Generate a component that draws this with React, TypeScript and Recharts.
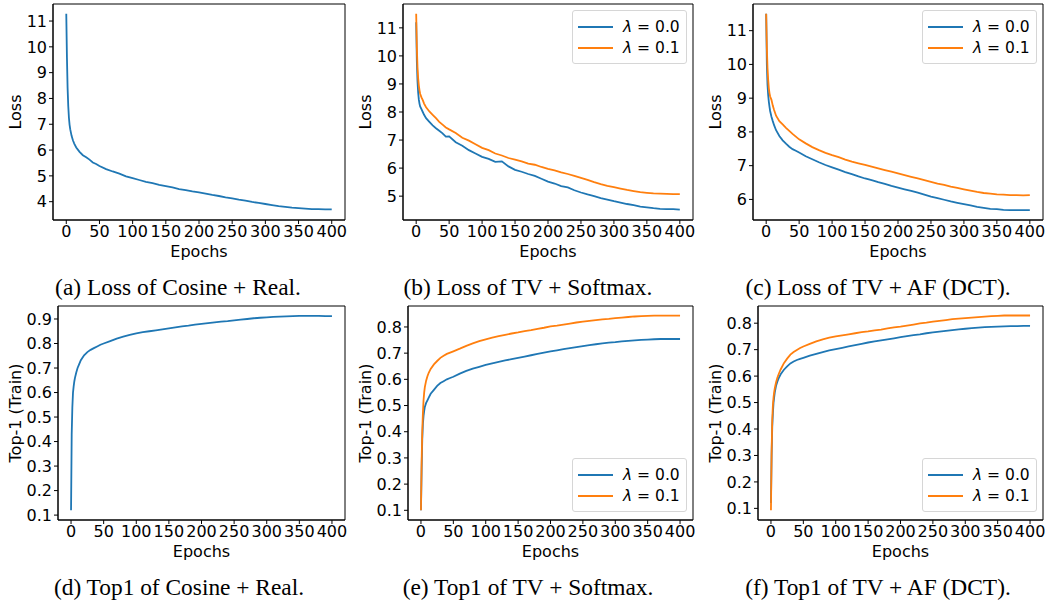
import React from "react";
import { Label, Legend, Line, LineChart, ReferenceArea, XAxis, YAxis } from "recharts";

const EPOCHS = [
  0, 1, 2, 3, 4, 5, 6, 8, 10, 12, 15, 20, 25, 30, 35, 40, 45, 50, 60, 70, 80, 90, 100, 110, 120, 130, 140, 150, 160,
  170, 180, 190, 200, 210, 220, 230, 240, 250, 260, 270, 280, 290, 300, 310, 320, 330, 340, 350, 360, 370, 380, 390, 400,
];
const X_TICKS = [0, 50, 100, 150, 200, 250, 300, 350, 400];
const LAMBDAS = ["λ = 0.0", "λ = 0.1"];
const COLORS = ["#1f77b4", "#ff7f0e"];

// (a) Loss of Cosine + Real
const LOSS_COS = [
  11.28, 9.6, 8.4, 7.7, 7.25, 6.98, 6.8, 6.55, 6.38, 6.25, 6.1, 5.93, 5.8, 5.72, 5.63, 5.52, 5.46, 5.38, 5.26, 5.17,
  5.09, 4.98, 4.91, 4.84, 4.77, 4.72, 4.65, 4.6, 4.55, 4.49, 4.45, 4.4, 4.36, 4.31, 4.26, 4.22, 4.17, 4.13, 4.08, 4.04,
  3.99, 3.95, 3.91, 3.87, 3.83, 3.8, 3.77, 3.75, 3.73, 3.71, 3.71, 3.7, 3.7,
];
// (b) Loss of TV + Softmax
const LOSS_SM_0 = [
  11.2, 9.8, 9.1, 8.7, 8.45, 8.3, 8.2, 8.1, 8.0, 7.9, 7.78, 7.65, 7.52, 7.42, 7.33, 7.24, 7.12, 7.13, 6.92, 6.8, 6.64,
  6.52, 6.4, 6.33, 6.22, 6.24, 6.06, 5.94, 5.87, 5.79, 5.72, 5.62, 5.52, 5.45, 5.36, 5.31, 5.21, 5.13, 5.06, 5.0, 4.93,
  4.88, 4.82, 4.77, 4.72, 4.68, 4.63, 4.6, 4.57, 4.55, 4.54, 4.54, 4.52,
];
const LOSS_SM_1 = [
  11.5, 10.3, 9.6, 9.2, 8.95, 8.78, 8.65, 8.52, 8.42, 8.3, 8.17, 8.02, 7.9, 7.78, 7.65, 7.55, 7.45, 7.38, 7.25, 7.08,
  6.98, 6.85, 6.72, 6.64, 6.52, 6.45, 6.36, 6.3, 6.24, 6.16, 6.12, 6.04, 5.97, 5.92, 5.85, 5.79, 5.72, 5.65, 5.58, 5.5,
  5.43, 5.37, 5.32, 5.27, 5.22, 5.18, 5.14, 5.12, 5.1, 5.09, 5.08, 5.07, 5.07,
];
// (c) Loss of TV + AF (DCT)
const LOSS_AF_0 = [
  11.5, 10.0, 9.4, 9.1, 8.9, 8.75, 8.62, 8.45, 8.32, 8.2, 8.05, 7.88, 7.75, 7.65, 7.56, 7.49, 7.44, 7.39, 7.28, 7.19,
  7.1, 7.02, 6.95, 6.88, 6.81, 6.75, 6.68, 6.62, 6.57, 6.51, 6.46, 6.4, 6.35, 6.3, 6.25, 6.2, 6.14, 6.08, 6.04, 5.99,
  5.94, 5.9, 5.86, 5.82, 5.78, 5.75, 5.72, 5.71, 5.69, 5.68, 5.68, 5.68, 5.68,
];
const LOSS_AF_1 = [
  11.5, 10.5, 9.9, 9.55, 9.3, 9.15, 9.05, 8.95, 8.78, 8.65, 8.48, 8.32, 8.22, 8.12, 8.03, 7.94, 7.86, 7.78, 7.66, 7.55,
  7.46, 7.38, 7.31, 7.25, 7.18, 7.12, 7.07, 7.02, 6.97, 6.92, 6.87, 6.82, 6.77, 6.72, 6.67, 6.62, 6.57, 6.52, 6.47,
  6.43, 6.38, 6.34, 6.3, 6.26, 6.22, 6.19, 6.17, 6.15, 6.14, 6.13, 6.13, 6.12, 6.13,
];
// (d) Top1 of Cosine + Real
const TOP1_COS = [
  0.12, 0.43, 0.54, 0.6, 0.625, 0.645, 0.66, 0.682, 0.7, 0.713, 0.732, 0.752, 0.765, 0.774, 0.781, 0.788, 0.795, 0.8,
  0.81, 0.82, 0.828, 0.835, 0.841, 0.846, 0.85, 0.854, 0.858, 0.862, 0.866, 0.87, 0.873, 0.877, 0.88, 0.883, 0.886,
  0.889, 0.891, 0.894, 0.897, 0.9, 0.903, 0.905, 0.907, 0.909, 0.91, 0.911, 0.912, 0.913, 0.913, 0.913, 0.913, 0.912,
  0.912,
];
// (e) Top1 of TV + Softmax
const TOP1_SM_0 = [
  0.1, 0.25, 0.37, 0.43, 0.46, 0.48, 0.495, 0.51, 0.52, 0.53, 0.545, 0.56, 0.575, 0.586, 0.593, 0.6, 0.605, 0.61,
  0.622, 0.632, 0.641, 0.648, 0.655, 0.661, 0.667, 0.672, 0.677, 0.682, 0.687, 0.692, 0.697, 0.702, 0.707, 0.711,
  0.715, 0.719, 0.723, 0.727, 0.731, 0.734, 0.737, 0.74, 0.742, 0.745, 0.747, 0.749, 0.751, 0.752, 0.753, 0.754, 0.754,
  0.754, 0.754,
];
const TOP1_SM_1 = [
  0.1, 0.28, 0.4, 0.47, 0.52, 0.55, 0.57, 0.595, 0.612, 0.625, 0.64, 0.657, 0.67, 0.682, 0.69, 0.697, 0.702, 0.707,
  0.717, 0.728, 0.737, 0.746, 0.753, 0.759, 0.765, 0.77, 0.775, 0.779, 0.784, 0.788, 0.793, 0.797, 0.802, 0.805, 0.809,
  0.813, 0.817, 0.82, 0.823, 0.826, 0.829, 0.831, 0.834, 0.836, 0.838, 0.84, 0.841, 0.842, 0.843, 0.843, 0.843, 0.843,
  0.843,
];
// (f) Top1 of TV + AF (DCT)
const TOP1_AF_0 = [
  0.12, 0.3, 0.41, 0.46, 0.5, 0.52, 0.54, 0.565, 0.58, 0.592, 0.607, 0.624, 0.637, 0.648, 0.655, 0.661, 0.665, 0.669,
  0.677, 0.684, 0.691, 0.697, 0.702, 0.707, 0.712, 0.717, 0.722, 0.727, 0.731, 0.735, 0.739, 0.743, 0.747, 0.751,
  0.755, 0.758, 0.762, 0.765, 0.768, 0.771, 0.774, 0.777, 0.779, 0.781, 0.783, 0.785, 0.786, 0.787, 0.788, 0.789,
  0.789, 0.79, 0.79,
];
const TOP1_AF_1 = [
  0.093, 0.31, 0.435, 0.49, 0.52, 0.54, 0.555, 0.578, 0.595, 0.608, 0.625, 0.649, 0.666, 0.681, 0.691, 0.699, 0.706,
  0.712, 0.722, 0.731, 0.739, 0.745, 0.75, 0.754, 0.758, 0.762, 0.766, 0.769, 0.773, 0.776, 0.78, 0.784, 0.787, 0.791,
  0.795, 0.799, 0.802, 0.806, 0.809, 0.812, 0.815, 0.817, 0.819, 0.821, 0.823, 0.825, 0.827, 0.828, 0.829, 0.829,
  0.829, 0.829, 0.829,
];

const LOSS_TICKS_A = [4, 5, 6, 7, 8, 9, 10, 11];
const LOSS_TICKS_B = [5, 6, 7, 8, 9, 10, 11];
const LOSS_TICKS_C = [6, 7, 8, 9, 10, 11];
const TOP1_TICKS_D = [0.1, 0.2, 0.3, 0.4, 0.5, 0.6, 0.7, 0.8, 0.9];
const TOP1_TICKS_EF = [0.1, 0.2, 0.3, 0.4, 0.5, 0.6, 0.7, 0.8];

const CAPTIONS = [
  "(a) Loss of Cosine + Real.",
  "(b) Loss of TV + Softmax.",
  "(c) Loss of TV + AF (DCT).",
  "(d) Top1 of Cosine + Real.",
  "(e) Top1 of TV + Softmax.",
  "(f) Top1 of TV + AF (DCT).",
];

const SANS = "DejaVu Sans";
const FS = 16;
const YW = 60;
const MT = 4;
const MR = 6;
const XH = 50;
const X_DOMAIN: [number, number] = [-20, 420];

interface Panel {
  box: { x: number; y: number; w: number; h: number };
  series: number[][];
  yDomain: [number, number];
  yTicks: number[];
  yLabel: string;
  titleGap: number;
  legend: "top" | "bottom" | null;
  captionX: number;
  captionY: number;
}

const PANELS: Panel[] = [
  { box: { x: 53, y: 4, w: 292, h: 216 }, series: [LOSS_COS], yDomain: [3.29, 11.66], yTicks: LOSS_TICKS_A, yLabel: "Loss", titleGap: 38, legend: null, captionX: 178, captionY: 296 },
  { box: { x: 403, y: 4, w: 290, h: 216 }, series: [LOSS_SM_0, LOSS_SM_1], yDomain: [4.15, 11.85], yTicks: LOSS_TICKS_B, yLabel: "Loss", titleGap: 38, legend: "top", captionX: 528, captionY: 296 },
  { box: { x: 753, y: 4, w: 290, h: 216 }, series: [LOSS_AF_0, LOSS_AF_1], yDomain: [5.39, 11.79], yTicks: LOSS_TICKS_C, yLabel: "Loss", titleGap: 38, legend: "top", captionX: 878, captionY: 296 },
  { box: { x: 58, y: 306, w: 287, h: 214 }, series: [TOP1_COS], yDomain: [0.08, 0.953], yTicks: TOP1_TICKS_D, yLabel: "Top-1 (Train)", titleGap: 43, legend: null, captionX: 179, captionY: 596 },
  { box: { x: 408, y: 306, w: 285, h: 214 }, series: [TOP1_SM_0, TOP1_SM_1], yDomain: [0.063, 0.88], yTicks: TOP1_TICKS_EF, yLabel: "Top-1 (Train)", titleGap: 43, legend: "bottom", captionX: 528, captionY: 596 },
  { box: { x: 758, y: 306, w: 285, h: 214 }, series: [TOP1_AF_0, TOP1_AF_1], yDomain: [0.056, 0.865], yTicks: TOP1_TICKS_EF, yLabel: "Top-1 (Train)", titleGap: 43, legend: "bottom", captionX: 878, captionY: 596 },
];

const LEG_W = 115;
const LEG_H = 54;

function LambdaLegend({ payload }: any) {
  return (
    <div
      style={{
        width: LEG_W,
        height: LEG_H,
        boxSizing: "border-box",
        background: "#fff",
        border: "1px solid #d6d6d6",
        borderRadius: 3,
        padding: "5px 0 0 5px",
        fontFamily: SANS,
        fontSize: 15.5,
        color: "#000",
      }}
    >
      {(payload || []).map((p: any) => (
        <div key={p.value} style={{ display: "flex", alignItems: "center", height: 21.6 }}>
          <span style={{ width: 35, borderTop: `2px solid ${p.color}`, marginRight: 10 }} />
          <span>
            <i>{p.value.slice(0, 1)}</i>
            {p.value.slice(1)}
          </span>
        </div>
      ))}
    </div>
  );
}

function ChartPanel({ p }: { p: Panel }) {
  const rows = EPOCHS.map((e, i) => {
    const r: Record<string, number> = { epoch: e };
    p.series.forEach((s, k) => (r["s" + k] = s[i]));
    return r;
  });
  const legTop = p.legend === "top" ? MT + 6 : MT + p.box.h - 8 - LEG_H;
  return (
    <div style={{ position: "absolute", left: p.box.x - YW, top: p.box.y - MT }}>
      <LineChart
        width={p.box.w + YW + MR}
        height={p.box.h + MT + XH}
        data={rows}
        margin={{ top: MT, right: MR, bottom: 0, left: 0 }}
      >
        <XAxis
          dataKey="epoch"
          type="number"
          domain={X_DOMAIN}
          ticks={X_TICKS}
          interval={0}
          allowDataOverflow
          height={XH}
          tickSize={4}
          tickMargin={2}
          stroke="#000"
          tick={{ fill: "#000", fontSize: FS, fontFamily: SANS }}
        >
          <Label
            content={(props: any) => {
              const vb = props.viewBox;
              return (
                <text x={vb.x + vb.width / 2} y={vb.y + 31} textAnchor="middle" dominantBaseline="central" fontSize={FS} fontFamily={SANS} fill="#000">
                  Epochs
                </text>
              );
            }}
          />
        </XAxis>
        <YAxis
          type="number"
          domain={p.yDomain}
          ticks={p.yTicks}
          interval={0}
          allowDataOverflow
          width={YW}
          tickSize={4}
          tickMargin={2}
          stroke="#000"
          tick={{ fill: "#000", fontSize: FS, fontFamily: SANS }}
        >
          <Label
            content={(props: any) => {
              const vb = props.viewBox;
              const cx = vb.x + vb.width - p.titleGap;
              const cy = vb.y + vb.height / 2;
              return (
                <text x={cx} y={cy} transform={`rotate(-90 ${cx} ${cy})`} textAnchor="middle" dominantBaseline="central" fontSize={FS} fontFamily={SANS} fill="#000">
                  {p.yLabel}
                </text>
              );
            }}
          />
        </YAxis>
        <ReferenceArea x1={X_DOMAIN[0]} x2={X_DOMAIN[1]} y1={p.yDomain[0]} y2={p.yDomain[1]} fill="none" stroke="#000" strokeWidth={1} />
        {p.series.map((_, k) => (
          <Line
            key={k}
            dataKey={"s" + k}
            name={LAMBDAS[k]}
            type="linear"
            stroke={COLORS[k]}
            strokeWidth={1.8}
            dot={false}
            isAnimationActive={false}
          />
        ))}
        {p.legend && (
          <Legend
            layout="vertical"
            align="center"
            verticalAlign="middle"
            wrapperStyle={{ left: YW + p.box.w - 6 - LEG_W, top: legTop, width: LEG_W }}
            content={LambdaLegend}
          />
        )}
      </LineChart>
    </div>
  );
}

export default function App() {
  return (
    <div style={{ position: "absolute", left: 0, top: 0, width: 1049, height: 600, background: "#fff", fontFamily: SANS }}>
      {PANELS.map((p, i) => (
        <ChartPanel key={i} p={p} />
      ))}
      {PANELS.map((p, i) => (
        <div
          key={"c" + i}
          style={{
            position: "absolute",
            left: p.captionX - 170,
            width: 340,
            top: p.captionY - 22,
            textAlign: "center",
            fontFamily: "Liberation Serif",
            fontSize: 23.4,
            lineHeight: "27px",
            color: "#000",
            whiteSpace: "nowrap",
          }}
        >
          {CAPTIONS[i]}
        </div>
      ))}
    </div>
  );
}
